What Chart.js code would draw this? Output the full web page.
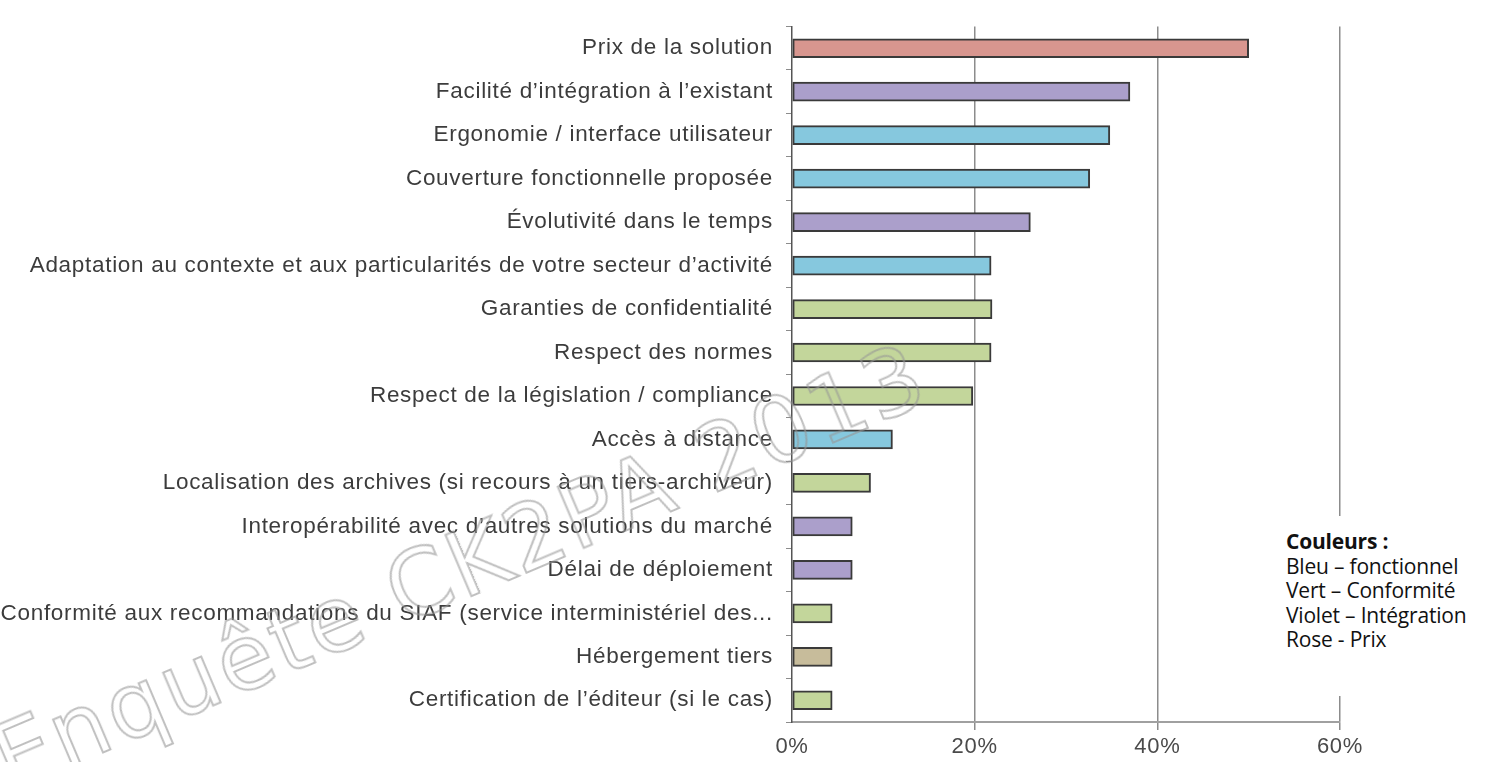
<!DOCTYPE html>
<html>
<head>
<meta charset="utf-8">
<script src="https://cdn.jsdelivr.net/npm/chart.js@4.4.0/dist/chart.umd.min.js"></script>
<style>
    html, body { margin: 0; padding: 0; background: #fff; }
    #wrap { position: relative; width: 1499px; height: 762px; overflow: hidden; }
    #legendBox {
        position: absolute; left: 1282px; top: 516px; width: 217px; height: 180px;
        background: #fff; font-family: "Open Sans", sans-serif; font-size: 21px;
        line-height: 24.5px; color: #111; padding-top: 13px; padding-left: 4px; box-sizing: border-box;
        white-space: nowrap; letter-spacing: -0.2px;
    }
    #legendBox b { font-weight: 700; }
    #watermark {
        position: absolute; left: 10px; top: 716px; white-space: nowrap;
        font-family: "DejaVu Sans", sans-serif; font-size: 90px; line-height: 90px; letter-spacing: 3px;
        color: transparent; -webkit-text-stroke: 2px rgba(150,150,150,0.6);
        transform-origin: 0 76px; transform: rotate(-23deg); pointer-events: none;
    }
</style>
</head>
<body>
<div id="wrap">
    <canvas id="chart" width="1499" height="762"></canvas>
    <div id="legendBox">
        <b>Couleurs :</b><br>
        Bleu – fonctionnel<br>
        Vert – Conformité<br>
        Violet – Intégration<br>
        Rose - Prix
    </div>
    <div id="watermark">Enquête CK2PA 2013</div>
</div>
<script>
// ---------- Data ----------
const criteres = [
    "Prix de la solution",
    "Facilité d’intégration à l’existant",
    "Ergonomie / interface utilisateur",
    "Couverture fonctionnelle proposée",
    "Évolutivité dans le temps",
    "Adaptation au contexte et aux particularités de votre secteur d’activité",
    "Garanties de confidentialité",
    "Respect des normes",
    "Respect de la législation / compliance",
    "Accès à distance",
    "Localisation des archives (si recours à un tiers-archiveur)",
    "Interopérabilité avec d’autres solutions du marché",
    "Délai de déploiement",
    "Conformité aux recommandations du SIAF (service interministériel des...",
    "Hébergement tiers",
    "Certification de l’éditeur (si le cas)"
];
const pourcentages = [50.0, 37.0, 34.8, 32.6, 26.1, 21.8, 21.9, 21.8, 19.8, 11.0, 8.6, 6.6, 6.6, 4.4, 4.4, 4.4];
const familles = ["prix", "integration", "fonctionnel", "fonctionnel", "integration", "fonctionnel",
    "conformite", "conformite", "conformite", "fonctionnel", "conformite", "integration",
    "integration", "conformite", "hebergement", "conformite"];
const xTicks = [0, 20, 40, 60];

// ---------- Colours ----------
const couleurs = {
    prix: "#d8968f",
    integration: "#ab9fcb",
    fonctionnel: "#86c8de",
    conformite: "#c3d69b",
    hebergement: "#c7bc9b"
};

// labels in the original are slightly wide
const letterSpacing = {
    id: 'letterSpacing',
    beforeDraw(chart) { chart.ctx.letterSpacing = '0.7px'; },
    afterDraw(chart) { chart.ctx.letterSpacing = '0px'; }
};

const ctx = document.getElementById('chart');
new Chart(ctx, {
    type: 'bar',
    data: {
        labels: criteres,
        datasets: [{
            data: pourcentages,
            backgroundColor: familles.map(f => couleurs[f]),
            borderColor: '#3a3a3a',
            borderWidth: 2,
            borderSkipped: false,
            barThickness: 19
        }]
    },
    options: {
        indexAxis: 'y',
        responsive: false,
        animation: false,
        layout: { padding: { top: 12, right: 159, left: 0, bottom: 0 } },
        plugins: { legend: { display: false }, tooltip: { enabled: false } },
        scales: {
            x: {
                min: 0, max: 60,
                afterBuildTicks: (s) => { s.ticks = xTicks.map(v => ({ value: v })); },
                afterFit: (s) => { s.height = 40; },
                grid: {
                    color: (c) => c.tick && c.tick.value === 0 ? 'rgba(0,0,0,0)' : '#8c8c8c',
                    lineWidth: 1.5,
                    tickLength: 8
                },
                border: { color: '#a0a0a0', width: 2 },
                ticks: {
                    callback: (v) => v + '%',
                    color: '#4a4a4a',
                    padding: 4,
                    font: { family: 'Liberation Sans', size: 22 }
                }
            },
            y: {
                afterFit: (s) => { s.width = 792; },
                grid: {
                    drawOnChartArea: false,
                    drawTicks: true,
                    tickLength: 6,
                    color: '#8c8c8c'
                },
                border: { color: '#555', width: 1.5 },
                ticks: {
                    color: '#3c3c3c',
                    padding: 13,
                    font: { family: 'Liberation Sans', size: 22.5 }
                }
            }
        }
    },
    plugins: [letterSpacing]
});
</script>
</body>
</html>
